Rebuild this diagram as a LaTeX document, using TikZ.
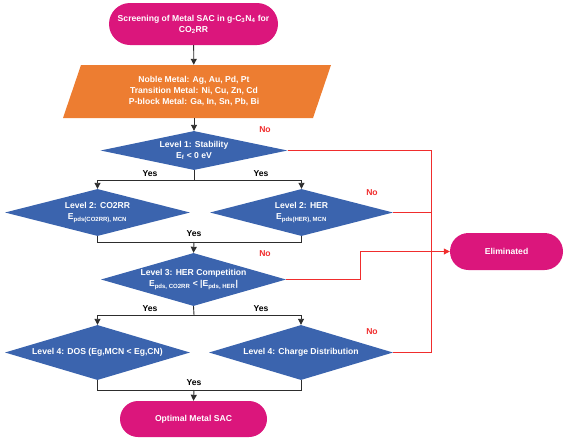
\documentclass[tikz,border=0pt]{standalone}
\usepackage{fontspec}
\setmainfont{Liberation Sans}
\usetikzlibrary{shapes.geometric,arrows.meta}
\definecolor{pinkc}{RGB}{219,22,124}
\definecolor{orangec}{RGB}{237,125,49}
\definecolor{bluec}{RGB}{59,100,174}
\definecolor{redc}{RGB}{240,45,45}
\definecolor{linec}{RGB}{45,45,45}
\tikzset{
  term/.style={rectangle, fill=pinkc, text=white, align=center, inner sep=0pt},
  diam/.style={diamond, fill=bluec, text=white, inner sep=0pt, align=center},
  conn/.style={draw=linec, line width=0.9pt},
  arr/.style={conn, -{Triangle[length=6pt,width=6pt]}},
  redln/.style={draw=redc, line width=0.8pt},
  redarr/.style={redln, -{Triangle[length=6pt,width=6pt]}},
  yeslbl/.style={text=black, inner sep=0pt},
  nolbl/.style={text=redc, inner sep=0pt}
}
\begin{document}
\begin{tikzpicture}[x=1pt,y=-1pt,font=\fontsize{8.6}{11}\selectfont\bfseries]
\useasboundingbox (0,0) rectangle (567,440);
% terminals
\node[term, minimum width=169pt, minimum height=42pt, rounded corners=21pt] (start) at (193.5,24)
  {Screening of Metal SAC in g-C\textsubscript{3}N\textsubscript{4} for\\CO\textsubscript{2}RR};
% parallelogram
\fill[orangec] (81,65) -- (331,65) -- (313,118) -- (63,118) -- cycle;
\node[text=white, align=center, inner sep=0pt, minimum height=53pt] (metals) at (194,91.5)
  {\fontsize{8.6}{10.5}\selectfont Noble Metal: Ag, Au, Pd, Pt\\Transition Metal: Ni, Cu, Zn, Cd\\P-block Metal: Ga, In, Sn, Pb, Bi};
% diamonds
\node[diam, minimum width=187pt, minimum height=39pt, shape aspect=4.7] (d1) at (194,150.5)
  {Level 1: Stability\\E\textsubscript{f} < 0 eV};
\node[diam, minimum width=185pt, minimum height=47pt, shape aspect=3.9] (d2l) at (97.5,212.5)
  {Level 2: CO2RR\\E\textsubscript{pds(CO2RR), MCN}};
\node[diam, minimum width=183pt, minimum height=47pt, shape aspect=3.9] (d2r) at (301.5,212.5)
  {Level 2: HER\\E\textsubscript{pds(HER), MCN}};
\node[diam, minimum width=185pt, minimum height=53pt, shape aspect=3.5] (d3) at (193.5,279.5)
  {Level 3: HER Competition\\E\textsubscript{pds, CO2RR} < |E\textsubscript{pds, HER}|};
\node[diam, minimum width=185pt, minimum height=55pt, shape aspect=3.35] (d4l) at (97.5,352.5)
  {Level 4: DOS (Eg,MCN < Eg,CN)};
\node[diam, minimum width=184pt, minimum height=55pt, shape aspect=3.35] (d4r) at (301,352.5)
  {Level 4: Charge Distribution};
\node[term, minimum width=147pt, minimum height=36pt, rounded corners=18pt] (endn) at (193.5,419)
  {Optimal Metal SAC};
\node[term, minimum width=113pt, minimum height=37pt, rounded corners=18.5pt] (elim) at (506.5,251.5)
  {Eliminated};
% junction coordinates
\coordinate (j1) at (194,180);
\coordinate (m1) at (194,242);
\coordinate (j3) at (194,315);
\coordinate (m3) at (194,390);
\coordinate (rv) at (431,250);
\coordinate (k3) at (360,250);
% black connectors
\draw[arr] (start) -- (metals);
\draw[arr] (metals) -- (d1);
\draw[conn] (d1.south) -- (j1);
\draw[arr] (j1) -| (d2l.north);
\draw[arr] (j1) -| (d2r.north);
\draw[conn] (d2l.south) |- (m1);
\draw[conn] (d2r.south) |- (m1);
\draw[arr] (m1) -- (d3.north);
\draw[conn] (d3.south) -- (j3);
\draw[arr] (j3) -| (d4l.north);
\draw[arr] (j3) -| (d4r.north);
\draw[conn] (d4l.south) |- (m3);
\draw[conn] (d4r.south) |- (m3);
\draw[arr] (m3) -- (endn.north);
% red connectors
\draw[redln] (d1.east) -- (d1.east -| rv) -- (d4r.east -| rv) -- (d4r.east);
\draw[redln] (d2r.east) -- (d2r.east -| rv);
\draw[redarr] (d3.east) -- (d3.east -| k3) |- (elim.west);
% labels
\node[yeslbl] (y1) at (150,174) {Yes};
\node[yeslbl] (y2) at (261,174) {Yes};
\node[yeslbl] (y3) at (194,234) {Yes};
\node[yeslbl] (y4) at (150,309) {Yes};
\node[yeslbl] (y5) at (261,309) {Yes};
\node[yeslbl] (y6) at (194,383) {Yes};
\node[nolbl] (n1) at (265,130) {No};
\node[nolbl] (n2) at (372,193) {No};
\node[nolbl] (n3) at (265,254) {No};
\node[nolbl] (n4) at (372,332) {No};
\end{tikzpicture}
\end{document}
